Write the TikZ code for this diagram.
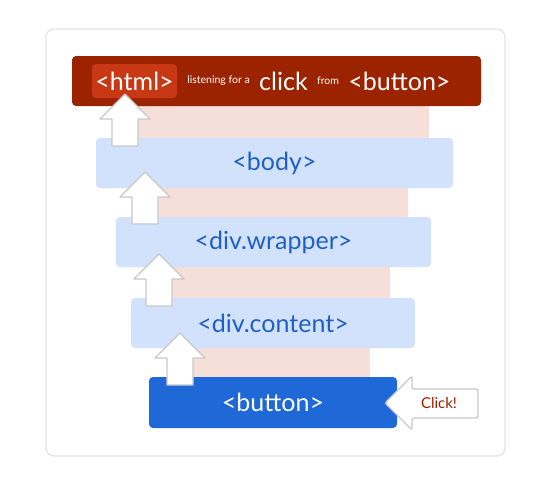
\documentclass[tikz,border=0pt]{standalone}
\usepackage{fontspec}
\setmainfont{Lato}
\usetikzlibrary{positioning}
\definecolor{htmlred}{HTML}{9B2300}
\definecolor{tagred}{HTML}{C93814}
\definecolor{bandpink}{HTML}{F5DFD8}
\definecolor{barblue}{HTML}{D3E2FC}
\definecolor{tagblue}{HTML}{1E5FC8}
\definecolor{buttonblue}{HTML}{1E69D7}
\definecolor{arrowgray}{HTML}{C8C8C8}
\definecolor{panelgray}{HTML}{E4E4E4}
\definecolor{clickred}{HTML}{A01E00}

\tikzset{
  bar/.style={rounded corners=4pt, minimum height=50pt, inner sep=0pt,
    font=\fontsize{25}{30}\selectfont},
  lightbar/.style={bar, fill=barblue, text=tagblue},
  bigword/.style={inner sep=0pt, text=white, font=\fontsize{25}{30}\selectfont},
  smallword/.style={inner sep=0pt, text=white, font=\fontsize{10.5}{12}\selectfont},
  blockarrow/.style={fill=white, draw=arrowgray, line width=1.3pt, line join=round},
}

\begin{document}
\begin{tikzpicture}[x=1pt,y=-1pt]
  \useasboundingbox (0,0) rectangle (537,479);
  % Panel
  \draw[panelgray, line width=1.2pt, fill=white, rounded corners=8pt] (46,29) rectangle (505,456);
  % Pink bands between the bars
  \fill[bandpink] (130,104) rectangle (429,140);
  \fill[bandpink] (150,186) rectangle (408,219);
  \fill[bandpink] (165,265) rectangle (390,300);
  \fill[bandpink] (185,346) rectangle (370,379);
  % Bars
  \node[bar, fill=htmlred, minimum width=409pt] (html) at (276.5,81) {};
  \node[lightbar, minimum width=357pt] (body) at (274.5,163) {<body>};
  \node[lightbar, minimum width=315pt] (wrapper) at (273.5,242) {<div.wrapper>};
  \node[lightbar, minimum width=284pt] (content) at (273,323) {<div.content>};
  \node[bar, fill=buttonblue, text=white, minimum width=248pt, minimum height=51pt] (button) at (273,402.5) {<button>};
  % Words of the html bar
  \node[bigword, fill=tagred, rounded corners=4pt, minimum width=85pt, minimum height=34pt] (htmltag) at (134.5,81) {<html>};
  \node[smallword, right=10pt of htmltag] (listen) {listening for a};
  \node[bigword, right=9pt of listen] (click) {click};
  \node[smallword, right=9pt of click] (from) {from};
  \node[bigword, right=9pt of from] (source) {<button>};
  % Bubbling arrows
  \foreach \tx/\ty in {125/94, 145/172, 159/254, 180/333}
    \draw[blockarrow] (\tx,\ty) -- ++(25,25) -- ++(-12,0) -- ++(0,27)
      -- ++(-26,0) -- ++(0,-27) -- ++(-12,0) -- cycle;
  % Click arrow
  \draw[blockarrow, rounded corners=2pt] (385,403) -- (412,376) -- (412,389) -- (478,389)
    -- (478,418) -- (412,418) -- (412,430) -- cycle;
  \node[text=clickred, inner sep=0pt, font=\fontsize{15}{18}\selectfont] (clicklabel) at (439,403) {Click!};
\end{tikzpicture}
\end{document}
